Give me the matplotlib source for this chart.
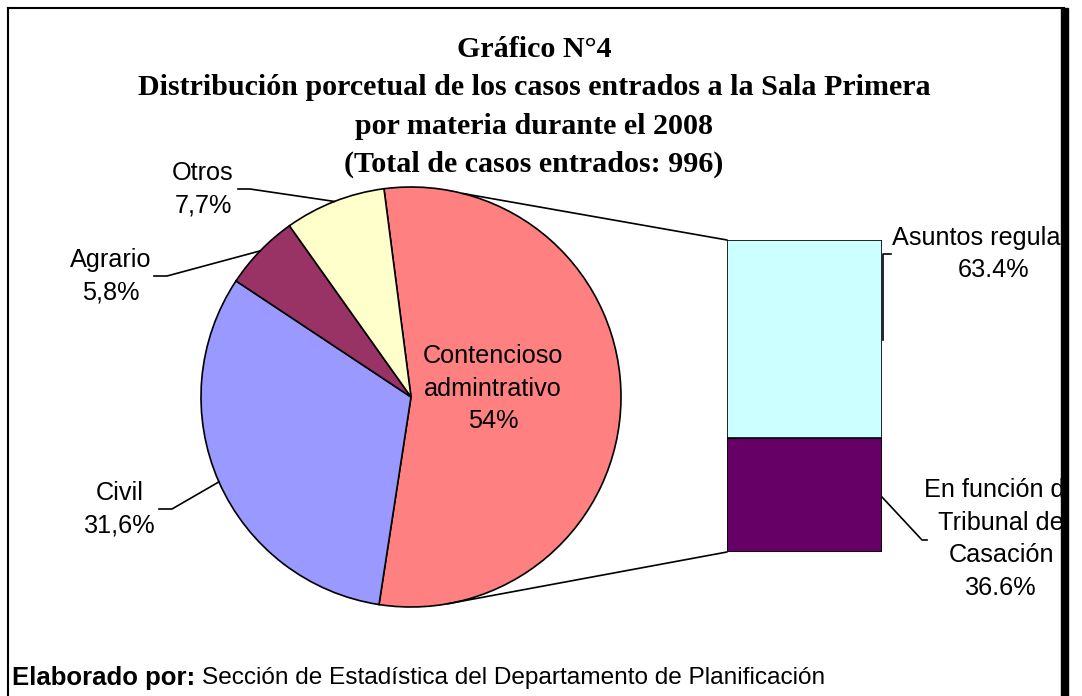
import numpy as np
import matplotlib.pyplot as plt
from matplotlib.patches import ConnectionPatch, Rectangle
from matplotlib.lines import Line2D
from matplotlib.transforms import Bbox

# datos del gráfico
categorias = ['Contencioso\nadmintrativo', 'Civil', 'Agrario', 'Otros']
porcentajes = [54, 31.6, 5.8, 7.7]
etiquetas_pct = ['54%', '31,6%', '5,8%', '7,7%']
colores = ['#FF8080', '#9999FF', '#993366', '#FFFFCC']

desglose = ['En función de\nTribunal de\nCasación', 'Asuntos regulares']
desglose_pct = [36.6, 63.4]
colores_barra = ['#660066', '#CCFFFF']

titulo = ['Gráfico N°4',
          'Distribución porcetual de los casos entrados a la Sala Primera',
          'por materia durante el 2008',
          '(Total de casos entrados: 996)']

W, H = 1082, 696
fig = plt.figure(figsize=(W/100, H/100), dpi=100)

def px(x, y):
    return (x/W, 1 - y/H)

# marco
fig.add_artist(Line2D([8/W, 8/W], [0, 1-8/H], color='black', lw=1.5, transform=fig.transFigure))
fig.add_artist(Line2D([8/W, 1064/W], [1-8/H, 1-8/H], color='black', lw=1.5, transform=fig.transFigure))

# titulo
for i, t in enumerate(titulo):
    fig.text(*px(534, 49.5 + i*38.3), t, ha='center', va='center', fontsize=21.6,
             fontweight='bold', family='Liberation Serif')

# pastel
ax_pie = fig.add_axes([201/W, 1-607/H, 420/W, 420/H])
wedges, _ = ax_pie.pie(porcentajes, colors=colores, startangle=97.4, counterclock=False,
                       wedgeprops=dict(edgecolor='black', linewidth=1.2))
ax_pie.set_xlim(-1, 1)
ax_pie.set_ylim(-1, 1)
ax_pie.set_aspect('equal')

def pie_fig(ang):
    a = np.deg2rad(ang)
    p = ax_pie.transData.transform((np.cos(a), np.sin(a)))
    return fig.transFigure.inverted().transform(p)

fuente = dict(fontsize=18.2, family='Liberation Sans', linespacing=1.45)

ax_pie.text(0.39, 0.04, categorias[0] + '\n' + etiquetas_pct[0], ha='center', va='center', **fuente)

# etiquetas externas: (centro texto, inicio linea)
pos_texto = {1: (120, 509), 2: (111, 276), 3: (203, 189)}
inicio_linea = {1: (159, 172), 2: (154, 167), 3: (238, 250)}
for i in [1, 2, 3]:
    w = wedges[i]
    mid = (w.theta1 + w.theta2) / 2
    tx, ty = pos_texto[i]
    fig.text(*px(tx, ty), categorias[i] + '\n' + etiquetas_pct[i], ha='center', va='center', **fuente)
    x0, x1 = inicio_linea[i]
    pe = pie_fig(mid)
    a = px(x0, ty)
    b = px(x1, ty)
    fig.add_artist(Line2D([a[0], b[0], pe[0]], [a[1], b[1], pe[1]], color='black', lw=1.2,
                          transform=fig.transFigure))

# barra
ax_bar = fig.add_axes([727/W, 1-552/H, 155/W, 312/H])
base = 0
for v, c in zip(desglose_pct, colores_barra):
    ax_bar.bar(0, v, width=1, bottom=base, color=c, edgecolor='black', linewidth=1.2)
    base += v
ax_bar.set_xlim(-0.5, 0.5)
ax_bar.set_ylim(0, 100)
ax_bar.axis('off')

# lineas de conexion
for ang, yb in [(75.7, 100), (-80, 0)]:
    a = np.deg2rad(ang)
    con = ConnectionPatch(xyA=(np.cos(a), np.sin(a)), coordsA=ax_pie.transData,
                          xyB=(-0.5, yb), coordsB=ax_bar.transData, color='black', lw=1.2)
    fig.add_artist(con)

clip = Bbox([[0, 0], [1061, H]])
t1 = fig.text(*px(994, 254), desglose[1] + '\n' + f'{desglose_pct[1]}%', ha='center', va='center', **fuente)
t2 = fig.text(*px(1001, 539), desglose[0] + '\n' + f'{desglose_pct[0]}%', ha='center', va='center', **fuente)
for t in (t1, t2):
    t.set_clip_box(clip)
    t.set_clip_on(True)

fig.add_artist(Line2D([883/W, 883/W, 891/W], [1-340/H, 1-254/H, 1-254/H], color='black', lw=1.2,
                      transform=fig.transFigure))
fig.add_artist(Line2D([882/W, 922/W, 927/W], [1-497/H, 1-540/H, 1-540/H], color='black', lw=1.2,
                      transform=fig.transFigure))

# borde derecho grueso
fig.add_artist(Rectangle((1061/W, 0), 7/W, 1-8/H, color='black', transform=fig.transFigure))

# pie de pagina
fig.text(*px(12, 678), 'Elaborado por:', fontsize=18.5, fontweight='bold', family='Liberation Sans', va='center')
fig.text(*px(202, 678), 'Sección de Estadística del Departamento de Planificación', fontsize=17.6,
         family='Liberation Sans', va='center')

fig.savefig('out.png', dpi=100)
